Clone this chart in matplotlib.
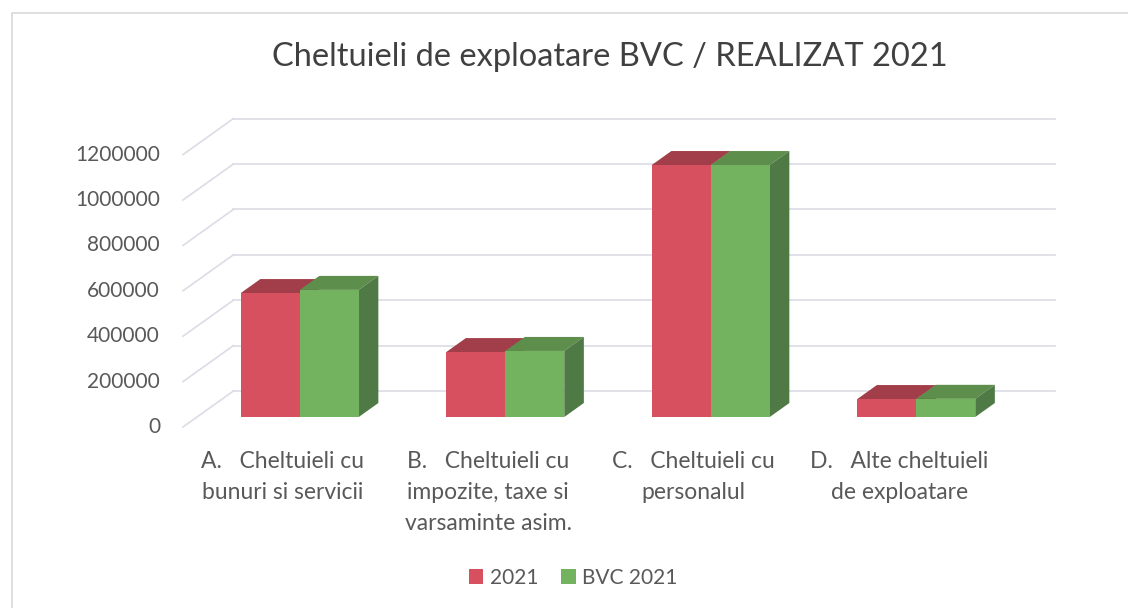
import numpy as np
import matplotlib.pyplot as plt
from matplotlib.patches import Polygon, Rectangle

plt.rcParams['font.family'] = ['Lato', 'DejaVu Sans']

# data
categories = ["A.   Cheltuieli cu\nbunuri si servicii",
              "B.   Cheltuieli cu\nimpozite, taxe si\nvarsaminte asim.",
              "C.   Cheltuieli cu\npersonalul",
              "D.   Alte cheltuieli\nde exploatare"]
series_names = ["2021", "BVC 2021"]
realizat = [546000, 286000, 1110000, 79000]
bvc = [560000, 291000, 1110000, 80000]
yticks = [0, 200000, 400000, 600000, 800000, 1000000, 1200000]

# colours: front, top, side
red = ('#d6505f', '#a23e49', '#8e3540')
green = ('#73b35f', '#5d8e4c', '#4f7a46')
grid_col = '#dcdce6'
text_col = '#595959'

W, H = 1128, 608
fig = plt.figure(figsize=(W / 100, H / 100), dpi=100)

# axes = front plane of the bars
ax_l, ax_r, ax_b, ax_t = 197, 1019, 417, 144.6
ax = fig.add_axes([ax_l / W, 1 - ax_b / H, (ax_r - ax_l) / W, (ax_b - ax_t) / H])
ax.set_xlim(-0.5, 3.5)
ax.set_ylim(0, 1200000)
ax.axis('off')

# pixel -> data units
ux = 4 / (ax_r - ax_l)
uy = 1200000 / (ax_b - ax_t)


def depth(d):
    """oblique offset for depth d (pixels up), 1.4 px right per px up"""
    return 1.4 * d * ux, d * uy


wall = depth(26)
front = depth(-10)
bdep = depth(14)

# back wall grid + side diagonals + tick labels
for v in yticks:
    ax.plot([-0.5 + wall[0], 3.5 + wall[0]], [v + wall[1]] * 2,
            color=grid_col, lw=1.2, zorder=0, clip_on=False)
    ax.plot([-0.5 + front[0], -0.5 + wall[0]], [v + front[1], v + wall[1]],
            color=grid_col, lw=1.2, zorder=0, clip_on=False)
    ax.text(-0.5 + front[0] - 23 * ux, v + front[1], str(v), ha='right', va='center',
            fontsize=15, color=text_col)

bw = 59 * ux
x = np.arange(len(categories))
dx, dy = bdep
for i in range(len(categories)):
    for j, (vals, cols, name) in enumerate([(realizat, red, series_names[0]),
                                            (bvc, green, series_names[1])]):
        x0 = x[i] - bw + j * bw
        x1 = x0 + bw
        v = vals[i]
        ax.add_patch(Polygon([(x0, v), (x1, v), (x1 + dx, v + dy), (x0 + dx, v + dy)],
                             closed=True, fc=cols[1], ec='none', zorder=2, clip_on=False))
        ax.add_patch(Polygon([(x1, 0), (x1, v), (x1 + dx, v + dy), (x1 + dx, dy)],
                             closed=True, fc=cols[2], ec='none', zorder=2, clip_on=False))
        ax.bar(x0, v, width=bw, align='edge', color=cols[0], zorder=3, clip_on=False,
               label=name if i == 0 else None)

# category labels on the floor's front edge
for i, lab in enumerate(categories):
    ax.text(x[i] + front[0] - 3 * ux, front[1] - 24 * uy, lab, ha='center', va='top',
            fontsize=16.5, color=text_col, linespacing=1.6)

fig.text(610 / W, 1 - 57 / H, "Cheltuieli de exploatare BVC / REALIZAT 2021",
         ha='center', va='center', fontsize=23.5, color='#404040')

fig.legend(loc='center', bbox_to_anchor=(573 / W, 1 - 578 / H), ncol=2, frameon=False,
           fontsize=15, handlelength=0.7, handleheight=0.7, handletextpad=0.3,
           columnspacing=1.1, labelcolor=text_col)

# chart border
fig.patches.append(Rectangle((12 / W, -0.1), 1.2, 1 - 13 / H + 0.1, transform=fig.transFigure,
                             fill=False, ec='#d9d9d9', lw=1.2))

fig.savefig('out.png', dpi=100)
